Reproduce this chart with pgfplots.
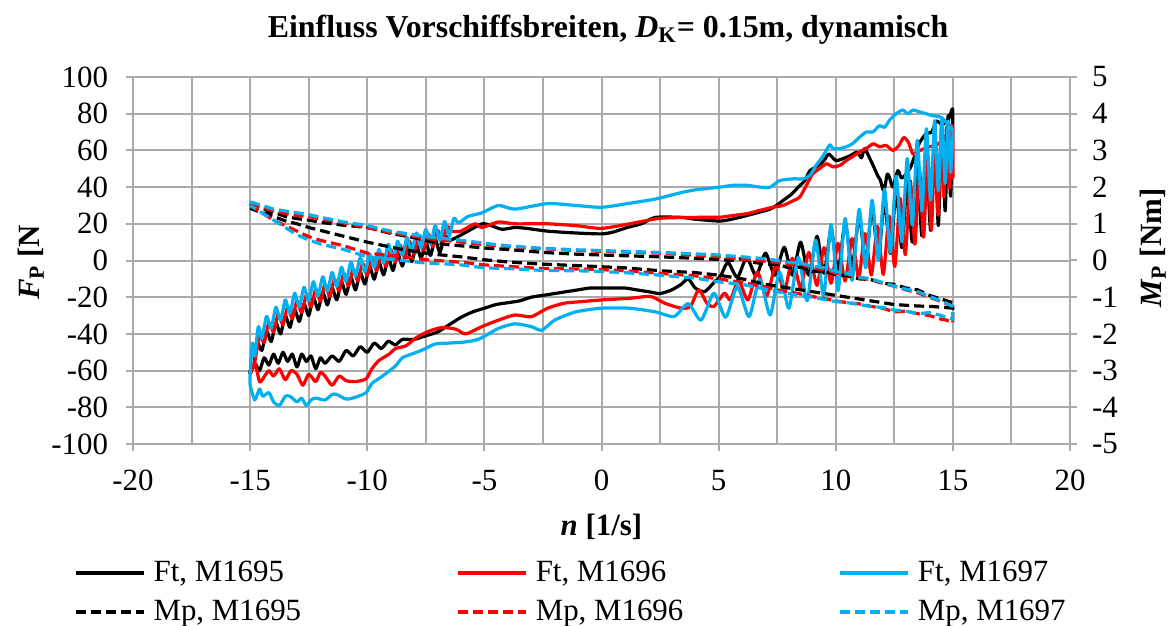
\documentclass[border=0pt]{standalone}
\usepackage{fontspec}
\setmainfont{Liberation Serif}
\usepackage{pgfplots}
\pgfplotsset{compat=1.18}

\definecolor{gridgray}{RGB}{170,170,170}
\definecolor{mblue}{RGB}{0,176,240}
\definecolor{mred}{RGB}{255,0,0}

\newcommand{\chartfont}{\fontsize{15.5}{18}\selectfont}

\pgfplotsset{
  ft/.style={line width=1.6bp, solid, line join=round},
  mp/.style={line width=1.6bp, dash pattern=on 5bp off 2.5bp},
  frame/.style={
    scale only axis, width=468.5bp, height=183.5bp,
    xmin=-20, xmax=20,
    tick align=outside, major tick length=3.5bp, minor tick length=0pt,
    axis line style={gridgray, line width=1bp},
    tick style={gridgray, line width=1bp},
    tick label style={font=\chartfont},
    label style={font=\chartfont},
    /pgf/number format/assume math mode=true,
  },
}

\begin{document}
\begin{tikzpicture}
% thrust, left axis
\begin{axis}[frame, name=main,
  ymin=-100, ymax=100,
  xtick={-20,-15,...,20}, ytick={-100,-80,...,100},
  minor x tick num=1,
  xmajorgrids, xminorgrids, ymajorgrids,
  grid style={gridgray, line width=1bp},
  xtick pos=bottom, ytick pos=left,
  yticklabel style={xshift=-5.5bp},
  xticklabel style={yshift=-6bp},
  title={\bfseries Einfluss Vorschiffsbreiten, \textit{D}\textsubscript{K}= 0.15m, dynamisch},
  title style={font=\fontsize{16}{19}\selectfont, at={(axis description cs:0.507,1)}, anchor=south, yshift=7bp},
  xlabel={\bfseries\textit{n} [1/s]},
  xlabel style={yshift=-5bp},
  ylabel={\bfseries\textit{F}\textsubscript{P} [N},
  ylabel style={at={(axis description cs:0,0.495)}, anchor=center, yshift=51bp},
]
% Ft, M1695
\addplot[ft, black, smooth, tension=0.4] coordinates {
(-15,-62) (-14.8,-56) (-14.6,-60) (-14.4,-53) (-14.2,-57) (-14.0,-51) (-13.8,-56) (-13.6,-50) (-13.4,-55) (-13.2,-51) (-13.0,-58) (-12.8,-51) (-12.6,-55) (-12.4,-52) (-12.2,-59) (-12.0,-53) (-11.8,-56) (-11.5,-52) (-11.2,-55) (-10.9,-49) (-10.6,-52) (-10.3,-47) (-10.0,-50) (-9.7,-45) (-9.4,-48) (-9.1,-44) (-8.8,-46) (-8.5,-43) (-8.0,-43) (-7.5,-41) (-7.0,-39) (-6.5,-35) (-6.0,-31) (-5.5,-28) (-5.0,-26) (-4.5,-24) (-4.0,-23) (-3.5,-22) (-3.0,-20) (-2.5,-19) (-2.0,-18) (-1.5,-17) (-1.0,-16) (-0.5,-15) (0,-15) (0.5,-15) (1.0,-15) (1.5,-16) (2.0,-17) (2.5,-18) (3.0,-16) (3.4,-13) (3.7,-10) (4.0,-15) (4.4,-17) (4.8,-12) (5.1,-8)
(5.4,-1) (5.8,-9.2) (6.2,1.6) (6.6,-8.4) (7.0,4) (7.4,-8) (7.8,7.2) (8.15,-8) (8.5,10) (8.85,-8) (9.2,13.2) (9.5,-7) (9.8,16.8) (10.1,-5.6) (10.4,20.4) (10.7,-3.2) (11.0,24) (11.28,-0.9) (11.55,28.4) (11.82,1.3) (12.08,32.8) (12.33,3.9) (12.58,37.8) (12.82,7) (13.05,42.8) (13.27,10) (13.48,50.6) (13.68,13.4) (13.87,57.6) (14.05,16.4) (14.22,67) (14.38,19) (14.53,76) (14.67,27) (14.8,79) (14.9,35) (15.0,81)
(14.85,78) (14.56,74) (14.3,76) (14.1,70) (13.85,69) (13.57,64) (13.4,58) (13.2,51) (13,47) (12.8,45) (12.65,49) (12.44,40) (12.3,45) (12.2,47) (12.05,38) (11.9,44) (11.8,46) (11.66,50) (11.44,56) (11.23,61) (11.1,56) (10.9,59) (10.6,57) (10.3,55.5) (10,54.5) (9.7,58) (9.5,54.5) (9.17,51) (8.9,49) (8.68,43.6) (8.4,40) (8.1,36) (7.75,32.7) (7.47,30) (7.2,28) (6.76,26.4) (6.2,24.5) (5.63,22.7) (5.06,21.5) (4,22.5) (3.4,23.5) (2.3,23.5) (1.7,20) (1.1,18) (0.5,15.5) (0,14.5) (-1.1,15) (-2.3,16) (-3.2,17.5) (-3.7,18) (-4.25,17) (-4.7,19) (-5.1,20) (-5.7,16) (-6.2,12.5) (-6.5,11)
(-6.7,13.2) (-6.9,4.4) (-7.1,11.6) (-7.3,2.8) (-7.5,10) (-7.7,1.2) (-7.9,8.4) (-8.1,-0.6) (-8.3,6.2) (-8.5,-3) (-8.7,3.8) (-8.9,-5.4) (-9.1,1.4) (-9.3,-7.8) (-9.5,-1) (-9.7,-10.2) (-9.9,-3.4) (-10.1,-12.8) (-10.3,-6.4) (-10.5,-16) (-10.7,-9.2) (-10.9,-18.4) (-11.1,-11.8) (-11.3,-21.4) (-11.5,-15) (-11.7,-24.2) (-11.9,-17.4) (-12.1,-26.8) (-12.3,-20.4) (-12.5,-30) (-12.7,-23.6) (-12.9,-33.2) (-13.1,-26.8) (-13.3,-36.4) (-13.5,-30) (-13.7,-40) (-13.9,-34) (-14.1,-44.2) (-14.3,-38.6) (-14.5,-49) (-14.7,-45) (-14.85,-58) (-15,-60) (-15,-62)
};
% Ft, M1696
\addplot[ft, mred, smooth, tension=0.4] coordinates {
(-15,-62) (-14.8,-56) (-14.6,-66) (-14.46,-64.5) (-14.2,-60) (-14,-63) (-13.75,-59) (-13.5,-65) (-13.25,-60) (-13,-62) (-12.75,-68) (-12.5,-62) (-12.2,-66) (-12,-61) (-11.8,-63) (-11.5,-68) (-11.2,-63) (-10.9,-65.5) (-10.5,-66) (-10.05,-64.5) (-9.8,-59) (-9.5,-54.5) (-9.06,-51) (-8.8,-48) (-8.35,-46.5) (-7.9,-42) (-7.36,-38.5) (-6.8,-36.5) (-6.2,-37.5) (-5.8,-40) (-5.1,-36) (-4.4,-32.5) (-3.7,-29.7) (-3,-30.6) (-2.3,-26) (-1.6,-23.3) (-0.85,-22.4) (0,-21.5) (1.2,-20.6) (2.1,-19.6) (2.7,-23.3) (3.4,-26) (3.8,-25) (4.15,-16) (4.5,-23.3) (4.8,-25) (5.25,-17.8) (5.5,-21.5)
(5.85,-10.9) (6.25,-21.5) (6.65,-6.2) (7.05,-19.4) (7.45,-2.2) (7.8,-17.1) (8.15,1.2) (8.5,-15) (8.85,4.4) (9.2,-13.6) (9.5,7) (9.8,-12.4) (10.1,9.4) (10.4,-11.2) (10.7,12) (10.98,-9.6) (11.25,14.7) (11.52,-7.9) (11.78,18.6) (12.03,-7.6) (12.28,24.2) (12.52,-3.2) (12.75,33.8) (12.97,3.2) (13.18,43.5) (13.38,8.9) (13.57,50.2) (13.75,12.7) (13.92,55.9) (14.08,16.5) (14.23,61.5) (14.37,24.7) (14.5,68.5) (14.62,34.5) (14.74,73) (14.85,39.5) (14.94,74) (15,45) (15,72)
(14.85,72) (14.6,66) (14.3,63) (14.0,62) (13.6,60) (13.3,58) (13.1,64.5) (12.9,67) (12.7,62.7) (12.44,60) (12.15,62.7) (11.87,62) (11.6,63.6) (11.3,61) (11,59) (10.7,56.4) (10.45,54.5) (10.2,52) (9.9,51) (9.6,52.7) (9.3,50) (9,47) (8.75,41) (8.46,34.5) (8.2,32.7) (7.75,30) (7.3,29) (6.76,27.3) (6.2,25.5) (5.6,24.5) (5.06,23.6) (4,23.5) (2.5,23) (1.2,20) (0,17.5) (-1.1,19) (-2.3,20) (-3.7,20) (-4.4,21) (-5.1,18) (-5.4,20) (-6,16) (-6.4,16)
(-6.6,18.6) (-6.8,9.6) (-7.0,16.5) (-7.2,7.5) (-7.4,14.5) (-7.6,5.5) (-7.8,12.5) (-8.0,3.5) (-8.2,10.5) (-8.4,1.5) (-8.6,8.4) (-8.8,-0.8) (-9.0,6) (-9.2,-3.2) (-9.4,3.6) (-9.6,-5.6) (-9.8,1.2) (-10,-8) (-10.2,-1.6) (-10.4,-11.2) (-10.6,-4.6) (-10.8,-13.8) (-11,-7) (-11.2,-16.6) (-11.4,-10.2) (-11.6,-19.6) (-11.8,-12.8) (-12,-22) (-12.2,-15.6) (-12.4,-25.2) (-12.6,-18.8) (-12.8,-28.4) (-13,-22) (-13.2,-31.6) (-13.4,-25.2) (-13.6,-35) (-13.8,-29) (-14,-39) (-14.2,-33.8) (-14.4,-44.6) (-14.6,-41) (-14.8,-55) (-15,-62)
};
% Ft, M1697
\addplot[ft, mblue, smooth, tension=0.4] coordinates {
(-15,-68) (-14.8,-76) (-14.6,-70) (-14.46,-74) (-14.2,-72) (-14,-77) (-13.75,-79) (-13.5,-74) (-13.3,-74) (-13,-77) (-12.8,-75) (-12.6,-79) (-12.4,-76) (-12.2,-75) (-11.8,-76) (-11.5,-73) (-11.3,-73) (-10.9,-75.5) (-10.5,-74.5) (-10.05,-72) (-9.8,-67) (-9.35,-63) (-8.8,-57.5) (-8.5,-53) (-8.1,-51) (-7.6,-48.5) (-7.1,-45.5) (-6.5,-45) (-5.9,-44.5) (-5.4,-43.5) (-5.1,-42) (-4.4,-37) (-3.7,-34.5) (-3,-36) (-2.55,-38) (-2,-32.5) (-1.1,-28) (0,-26) (1.2,-26) (2.3,-28) (3.1,-30.5) (3.7,-23.5)
(4.25,-32.5) (4.8,-17.8) (5.3,-31) (5.8,-14.2) (6.3,-30.6) (6.75,-10.3) (7.2,-29.7) (7.6,-6.3) (8.0,-26) (8.4,1.8) (8.78,-22) (9.14,11.1) (9.48,-19) (9.8,19.5) (10.1,-16.4) (10.4,22.8) (10.7,-10.8) (11.0,27.9) (11.28,-4) (11.55,32.8) (11.82,0.2) (12.08,38.9) (12.33,4.5) (12.58,46) (12.82,10.3) (13.05,55.5) (13.27,19.2) (13.48,65.5) (13.68,27) (13.87,71.8) (14.05,32.9) (14.22,76.3) (14.38,38) (14.53,78) (14.67,42) (14.8,76) (14.9,48) (15,70)
(14.8,74) (14.5,78) (14.1,79) (13.86,80) (13.57,81) (13.3,82) (13.07,80) (12.86,82) (12.58,80) (12.3,76.5) (12.08,72.5) (11.87,73.5) (11.58,70) (11.3,70) (11,67) (10.7,63.5) (10.45,62) (10.17,61) (9.88,61) (9.74,63) (9.46,57) (9.17,52) (8.9,46.5) (8.6,44.5) (8.18,44.5) (7.6,43.5) (7.2,40) (6.76,40) (6.2,41) (5.63,41) (5.06,40) (4,38.5) (3.4,37) (2.3,33.5) (1.1,31) (0,29) (-1.1,30) (-2.3,31) (-3.7,28) (-4.4,30) (-5.1,26) (-5.7,24) (-6.1,20.5)
(-6.3,23) (-6.5,13.5) (-6.7,21.3) (-6.9,11.1) (-7.1,19) (-7.3,9) (-7.5,17) (-7.7,7) (-7.9,15) (-8.1,5) (-8.3,12.5) (-8.5,3) (-8.7,10.5) (-8.9,1) (-9.1,8.9) (-9.3,-1.3) (-9.5,6) (-9.7,-3.7) (-9.9,3.6) (-10.1,-6.1) (-10.3,1.7) (-10.5,-8.5) (-10.7,-0.9) (-10.9,-11.3) (-11.1,-3.7) (-11.3,-14.1) (-11.5,-6.5) (-11.7,-16.7) (-11.9,-8.9) (-12.1,-19.2) (-12.3,-11.6) (-12.5,-22) (-12.7,-14.6) (-12.9,-25.2) (-13.1,-17.9) (-13.3,-28.7) (-13.5,-21.5) (-13.7,-32.5) (-13.9,-25.5) (-14.1,-36.9) (-14.3,-30.5) (-14.5,-42.5) (-14.65,-36) (-14.8,-52) (-14.9,-45) (-15,-62) (-15,-68)
};
\end{axis}

% torque, right axis
\begin{axis}[frame,
  ymin=-5, ymax=5, ytick={-5,-4,...,5},
  axis x line=none, axis y line*=right,
  yticklabel style={xshift=4bp},
  ylabel={\bfseries\textit{M}\textsubscript{P} [Nm]},
  ylabel style={at={(axis description cs:1,0.534)}, anchor=center, rotate=0, yshift=-41.5bp},
  legend columns=3,
  legend cell align=left,
  legend image code/.code={\draw[#1] (0bp,0bp) -- (34bp,0bp);},
  legend style={draw=none, fill=none, font=\chartfont,
    at={(axis description cs:0,0)}, anchor=north west,
    xshift=-29.5bp, yshift=-54.5bp,
    inner xsep=0pt, inner ysep=0pt,
    nodes={inner xsep=4bp, inner ysep=2bp, text height=12bp, text depth=3.5bp},
    /tikz/every even column/.append style={column sep=0bp}},
]
\addlegendimage{ft, black}
\addlegendentry{\makebox[147.5bp][l]{Ft, M1695}}
\addlegendimage{ft, mred}
\addlegendentry{\makebox[147.5bp][l]{Ft, M1696}}
\addlegendimage{ft, mblue}
\addlegendentry{\makebox[147.5bp][l]{Ft, M1697}}
% Mp, M1695
\addplot[mp, black] coordinates {
(-15,1.55) (-14.7,1.42) (-14.4,1.40) (-14.1,1.30) (-13.8,1.27) (-13.5,1.20) (-13,1.14) (-12.5,1.10) (-12,1.04) (-11,0.96) (-10,0.90) (-9,0.74) (-8,0.62) (-7.5,0.55) (-7,0.46) (-6,0.40) (-5,0.34) (-4,0.30) (-2.5,0.22) (-1,0.17) (0,0.15) (1,0.13) (2.5,0.10) (4,0.06) (5,0.03) (5.5,0.0) (6,0.05) (6.5,-0.05) (7,-0.1) (7.5,-0.1) (8,-0.2) (8.5,-0.18) (9,-0.3) (9.5,-0.3) (10,-0.38) (10.5,-0.42) (11,-0.5) (11.5,-0.52) (12,-0.62) (12.5,-0.65) (13,-0.75) (13.5,-0.8) (14,-0.95) (14.5,-1.05) (15,-1.15)
(15,-1.3) (14.5,-1.27) (14,-1.25) (13.5,-1.24) (13,-1.22) (12.5,-1.2) (12,-1.15) (11.5,-1.1) (11,-1.05) (10.5,-1.0) (10,-0.95) (9,-0.85) (8,-0.75) (7,-0.65) (6,-0.5) (5,-0.4) (4,-0.33) (2.5,-0.28) (1,-0.2) (0,-0.17) (-1,-0.14) (-2.5,-0.1) (-4,-0.04) (-5,0.02) (-6,0.1) (-7,0.16) (-7.5,0.2) (-8.5,0.3) (-10,0.5) (-11,0.66) (-12,0.82) (-12.5,0.9) (-13,1.0) (-13.5,1.08) (-14,1.2) (-14.5,1.3) (-15,1.42)
};
\addlegendentry{\makebox[147.5bp][l]{Mp, M1695}}
% Mp, M1696
\addplot[mp, mred] coordinates {
(-15,1.55) (-14.5,1.45) (-14,1.35) (-13.5,1.28) (-13,1.22) (-12.5,1.2) (-12,1.13) (-11,1.02) (-10,0.9) (-9,0.76) (-8,0.66) (-7.5,0.6) (-6,0.5) (-5,0.43) (-4,0.38) (-2.5,0.32) (-1,0.27) (0,0.25) (1,0.23) (2.5,0.2) (4,0.14) (5,0.1) (6,0.04) (7,-0.02) (7.5,-0.05) (8,-0.12) (8.5,-0.1) (9,-0.2) (9.5,-0.25) (10,-0.35) (10.5,-0.38) (11,-0.48) (11.5,-0.52) (12,-0.62) (12.5,-0.7) (13,-0.8) (13.5,-0.88) (14,-1.0) (14.5,-1.12) (15,-1.25)
(15,-1.7) (14.7,-1.62) (14.5,-1.6) (14,-1.5) (13.5,-1.45) (13,-1.38) (12.5,-1.4) (12,-1.3) (11.5,-1.25) (11,-1.18) (10.5,-1.15) (10,-1.1) (9,-0.98) (8,-0.85) (7.5,-0.8) (7,-0.72) (6,-0.6) (5,-0.5) (4,-0.42) (2.5,-0.35) (1,-0.28) (0,-0.25) (-1,-0.23) (-2.5,-0.22) (-4,-0.16) (-5,-0.12) (-6,-0.05) (-7,0.0) (-7.5,0.02) (-8.5,0.1) (-10,0.2) (-11,0.4) (-12,0.55) (-12.5,0.65) (-13,0.8) (-13.5,0.95) (-14,1.1) (-14.5,1.3) (-15,1.5)
};
\addlegendentry{\makebox[147.5bp][l]{Mp, M1696}}
% Mp, M1697
\addplot[mp, mblue] coordinates {
(-15,1.6) (-14.5,1.5) (-14,1.4) (-13.5,1.35) (-13,1.3) (-12.5,1.25) (-12,1.18) (-11,1.05) (-10,0.95) (-9,0.8) (-8,0.7) (-7.5,0.65) (-6,0.55) (-5,0.47) (-4,0.4) (-2.5,0.33) (-1,0.29) (0,0.27) (1,0.25) (2.5,0.22) (4,0.18) (5,0.15) (6,0.1) (7,0.05) (7.5,0.0) (8,-0.05) (8.5,-0.08) (9,-0.15) (9.5,-0.2) (10,-0.3) (10.5,-0.35) (11,-0.45) (11.5,-0.5) (12,-0.6) (12.5,-0.7) (13,-0.78) (13.5,-0.85) (14,-0.98) (14.5,-1.1) (15,-1.25)
(15,-1.6) (14.5,-1.5) (14,-1.42) (13.5,-1.45) (13,-1.38) (12.5,-1.35) (12,-1.28) (11.5,-1.25) (11,-1.2) (10.5,-1.15) (10,-1.12) (9,-1.0) (8,-0.9) (7.5,-0.85) (7,-0.78) (6,-0.65) (5,-0.58) (4,-0.48) (2.5,-0.4) (1,-0.33) (0,-0.3) (-1,-0.28) (-2.5,-0.27) (-4,-0.22) (-5,-0.2) (-6,-0.12) (-7,-0.08) (-7.5,-0.07) (-8.5,0.0) (-10,0.1) (-11,0.3) (-12,0.45) (-12.5,0.56) (-13,0.7) (-13.5,0.9) (-14,1.1) (-14.5,1.3) (-15,1.5)
};
\addlegendentry{\makebox[147.5bp][l]{Mp, M1697}}
\end{axis}

\pgfresetboundingbox
\path[use as bounding box] (main.south west) ++(-66.5bp,-91bp) rectangle ++(587.5bp,313bp);
\end{tikzpicture}
\end{document}
